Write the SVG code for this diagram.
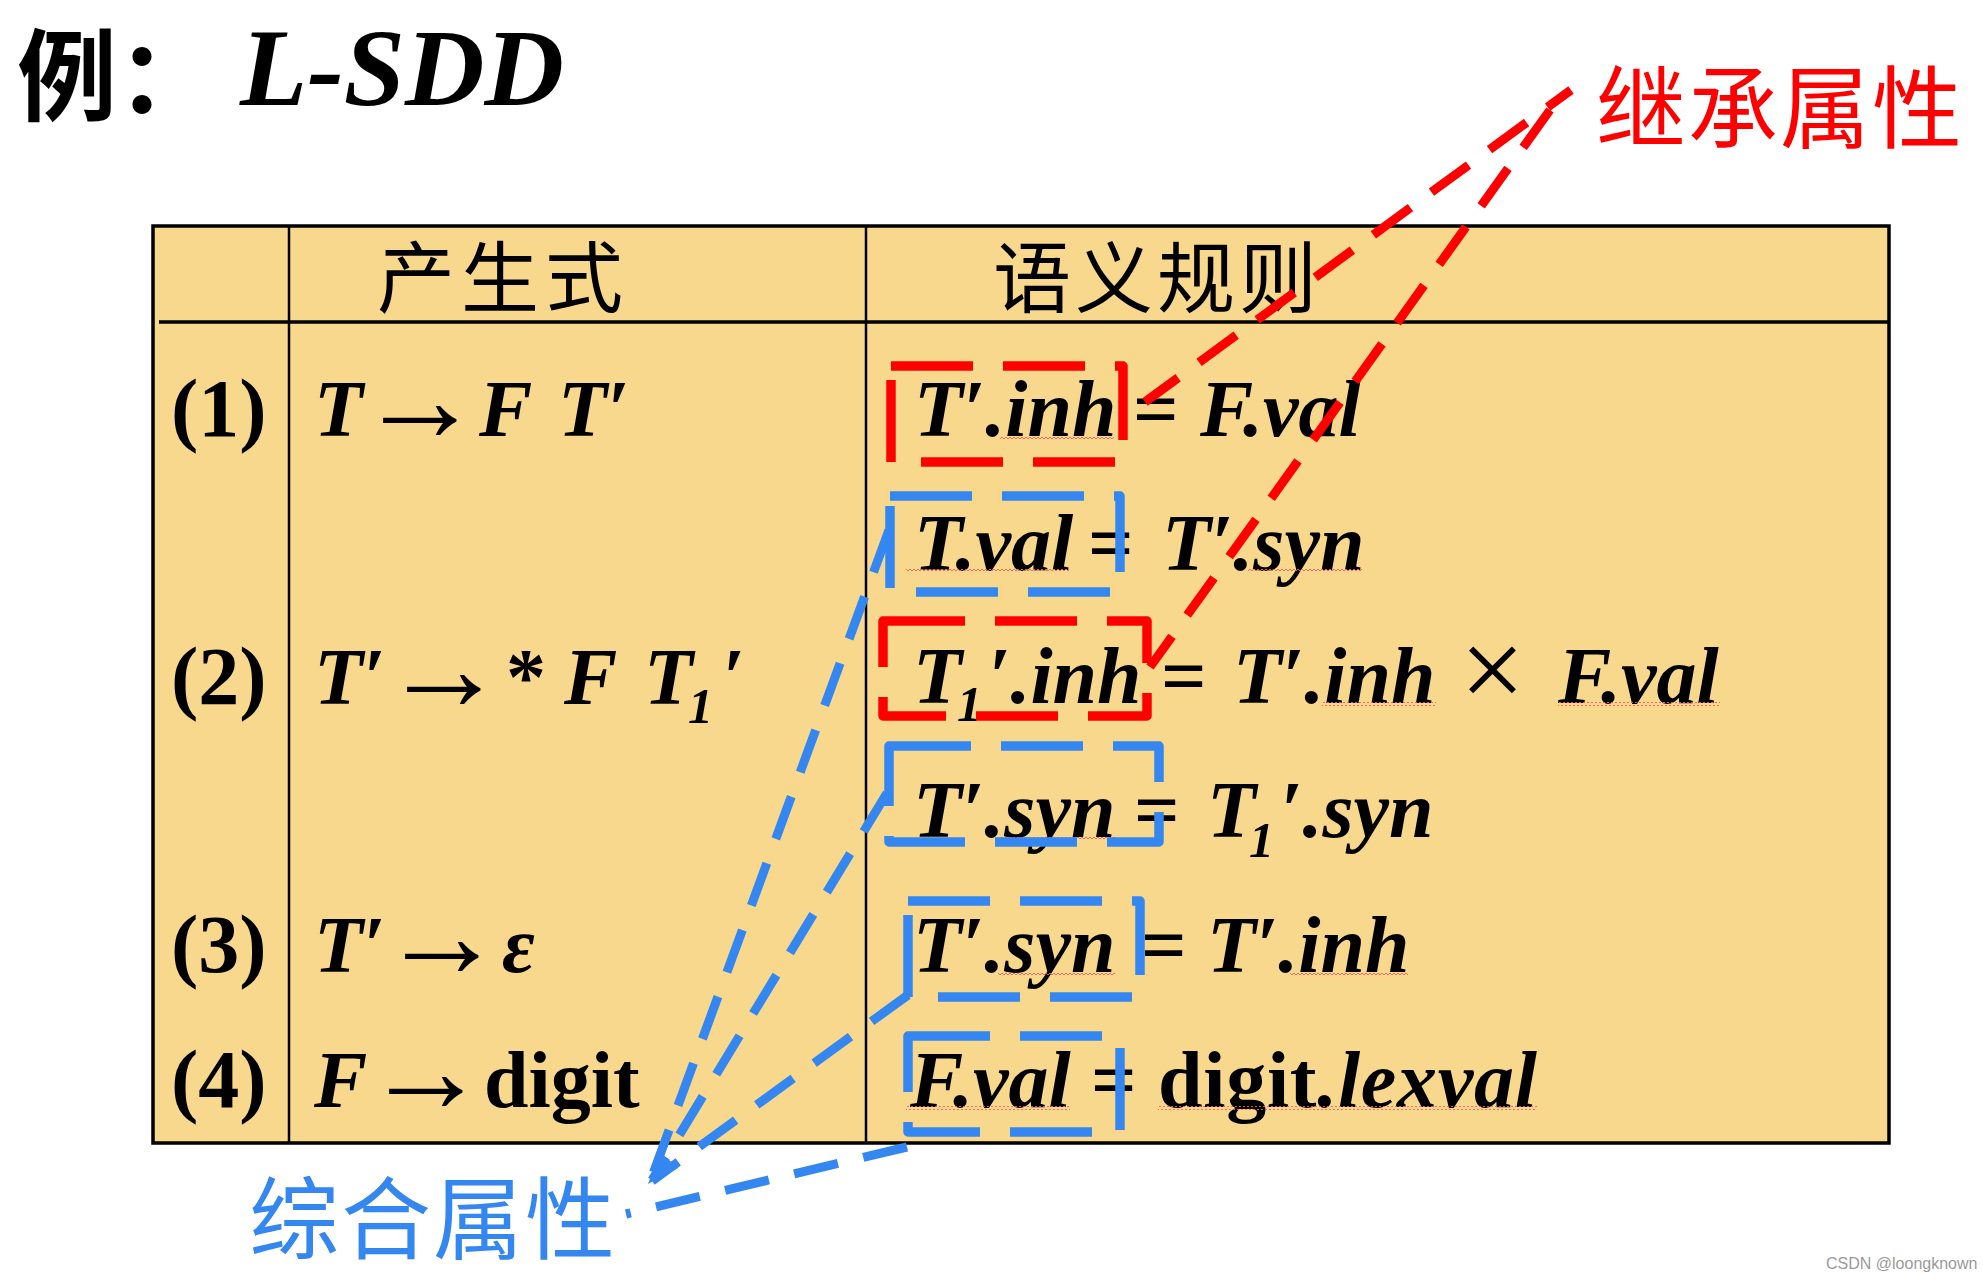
<svg xmlns="http://www.w3.org/2000/svg" width="1983" height="1281" viewBox="0 0 1983 1281">
<style>
.m{font-family:'Liberation Serif','Times New Roman',serif;font-style:italic;font-weight:bold;font-size:80px;fill:#000}
.n{font-family:'Liberation Serif','Times New Roman',serif;font-weight:bold;font-size:80px;fill:#000}
.num{font-family:'Liberation Serif','Times New Roman',serif;font-weight:bold;font-size:82px;fill:#000}
.s{font-size:50px}
.arr{font-family:'Liberation Serif','DejaVu Serif',serif;font-size:124px;fill:#000}
.mi{font-style:italic}
.cjk{font-family:'Noto Sans CJK SC','Noto Sans CJK TC',sans-serif}
.hdr{font-family:'Noto Sans CJK SC',sans-serif;font-size:78px;fill:#000}
.box-red{fill:none;stroke:#FF0000;stroke-width:9.5;stroke-dasharray:82 30;stroke-linejoin:round}
.box-blue{fill:none;stroke:#3486F0;stroke-width:9.5;stroke-dasharray:82 30;stroke-linejoin:round}
.conn-red{fill:none;stroke:#FF0000;stroke-width:9;stroke-dasharray:46 26}
.conn-blue{fill:none;stroke:#3486F0;stroke-width:9;stroke-dasharray:45 26}
.grid{stroke:#000;fill:none}
.sq{fill:url(#wave)}
</style>
<defs>
<pattern id="wave" width="4" height="4" patternUnits="userSpaceOnUse">
<path d="M0,3 L2,1 L4,3" fill="none" stroke="#F06060" stroke-width="0.9"/>
</pattern>
</defs>
<rect x="0" y="0" width="1983" height="1281" fill="#FFFFFF"/>

<g id="title">
<text x="17" y="113" class="cjk" font-size="100" font-weight="bold" fill="#000">例：</text>
<text x="240" y="105" font-family="'Liberation Serif','Times New Roman',serif" font-style="italic" font-weight="bold" font-size="110" fill="#000">L-SDD</text>
</g>

<g id="table">
<rect x="153" y="226" width="1736" height="917" fill="#F8D88D" stroke="#000" stroke-width="3.5"/>
<line class="grid" x1="159" y1="322" x2="1889" y2="322" stroke-width="3.5"/>
<line class="grid" x1="289" y1="226" x2="289" y2="1143" stroke-width="2.5"/>
<line class="grid" x1="866" y1="226" x2="866" y2="1143" stroke-width="2.5"/>
<text class="hdr" x="377" y="307" letter-spacing="6">产生式</text>
<text class="hdr" x="993" y="307" letter-spacing="4">语义规则</text>
</g>

<g id="production-1">
<text class="num" x="171" y="436">(1)</text>
<text class="m" x="314" y="436">T</text>
<text class="arr" x="358" y="441">→</text>
<text class="m" x="479" y="436">F</text>
<text class="m" x="558" y="436">T′</text>
</g>
<g id="production-2">
<text class="num" x="171" y="704">(2)</text>
<text class="m" x="314" y="704">T′</text>
<text class="arr" x="382" y="710">→</text>
<text class="n" x="506" y="704">*</text>
<text class="m" x="564" y="704">F</text>
<text class="m" x="644" y="704">T<tspan class="s" dx="-5" dy="19">1</tspan><tspan dx="9" dy="-19">′</tspan></text>
</g>
<g id="production-3">
<text class="num" x="171" y="972">(3)</text>
<text class="m" x="314" y="972">T′</text>
<text class="arr" x="380" y="977">→</text>
<text class="m" x="502" y="972">ε</text>
</g>
<g id="production-4">
<text class="num" x="171" y="1107">(4)</text>
<text class="m" x="314" y="1107">F</text>
<text class="arr" x="364" y="1112">→</text>
<text class="n" x="484" y="1107">digit</text>
</g>

<g id="rule-1a">
<text class="m" x="914" y="436">T′.inh</text>
<text class="n" x="1133" y="436">=</text>
<text class="m" x="1200" y="436">F.val</text>
<rect class="sq" x="1000" y="435" width="114" height="4"/>
<rect class="box-red" x="891" y="366" width="232" height="96"/>
</g>
<g id="rule-1b">
<text class="m" x="914" y="570">T.val</text>
<text class="n" x="1088" y="570">=</text>
<text class="m" x="1162" y="570">T′.syn</text>
<rect class="sq" x="906" y="569" width="163" height="4"/>
<rect class="sq" x="1248" y="569" width="114" height="4"/>
<rect class="box-blue" x="890" y="496" width="230" height="96"/>
</g>
<g id="rule-2a">
<text class="m" x="913" y="703">T<tspan class="s" dx="-5" dy="18">1</tspan><tspan dx="6" dy="-18">′.inh</tspan></text>
<text class="n" x="1161" y="703">=</text>
<text class="m" x="1233" y="703">T′.inh</text>
<text x="1460" y="708" font-family="'Liberation Serif','Times New Roman',serif" font-size="115" fill="#000">×</text>
<text class="m" x="1558" y="703">F.val</text>
<rect class="sq" x="1322" y="702" width="114" height="4"/>
<rect class="sq" x="1558" y="702" width="162" height="4"/>
<rect class="box-red" x="883" y="621" width="264" height="95"/>
</g>
<g id="rule-2b">
<text class="m" x="913" y="837">T′.syn</text>
<text class="n" x="1134" y="837">=</text>
<text class="m" x="1207" y="837">T<tspan class="s" dx="-7" dy="20">1</tspan><tspan dx="6" dy="-20">′.syn</tspan></text>
<rect class="sq" x="1000" y="836" width="115" height="4"/>
<rect class="box-blue" x="889" y="746" width="270" height="96"/>
</g>
<g id="rule-3">
<text class="m" x="913" y="972">T′.syn</text>
<text class="n" x="1141" y="972">=</text>
<text class="m" x="1207" y="972">T′.inh</text>
<rect class="sq" x="998" y="971" width="117" height="4"/>
<rect class="sq" x="1290" y="971" width="118" height="4"/>
<rect class="box-blue" x="908" y="901" width="232" height="96"/>
</g>
<g id="rule-4">
<text class="m" x="910" y="1107">F.val</text>
<text class="n" x="1091" y="1107">=</text>
<text class="n" x="1158" y="1107" textLength="379">digit<tspan class="mi">.lexval</tspan></text>
<rect class="sq" x="906" y="1106" width="164" height="4"/>
<rect class="sq" x="1158" y="1106" width="379" height="4"/>
<rect class="box-blue" x="908" y="1036" width="212" height="96"/>
</g>

<g id="label-inherited">
<text x="1596" y="141" class="cjk" font-size="90" letter-spacing="2" fill="#FF0000">继承属性</text>
</g>
<g id="label-synthesized">
<text x="249" y="1252" class="cjk" font-size="90" letter-spacing="2" fill="#3486F0">综合属性</text>
</g>

<g id="connectors">
<path class="conn-red" d="M1571,90 L1145,402" stroke-dashoffset="17"/>
<path class="conn-red" d="M1550,110 L1150,667"/>
<path class="conn-blue" d="M889,530 L650,1182"/>
<path class="conn-blue" d="M887,793 L652,1180"/>
<path class="conn-blue" d="M908,995 L652,1181"/>
<path class="conn-blue" d="M907,1147 L626,1214"/>
<polygon points="648,1184 678,1168 660,1152" fill="#3486F0"/>
</g>

<text x="1826" y="1269" font-family="'Liberation Sans',Arial,sans-serif" font-size="16" fill="#9A9A9A">CSDN @loongknown</text>
</svg>
